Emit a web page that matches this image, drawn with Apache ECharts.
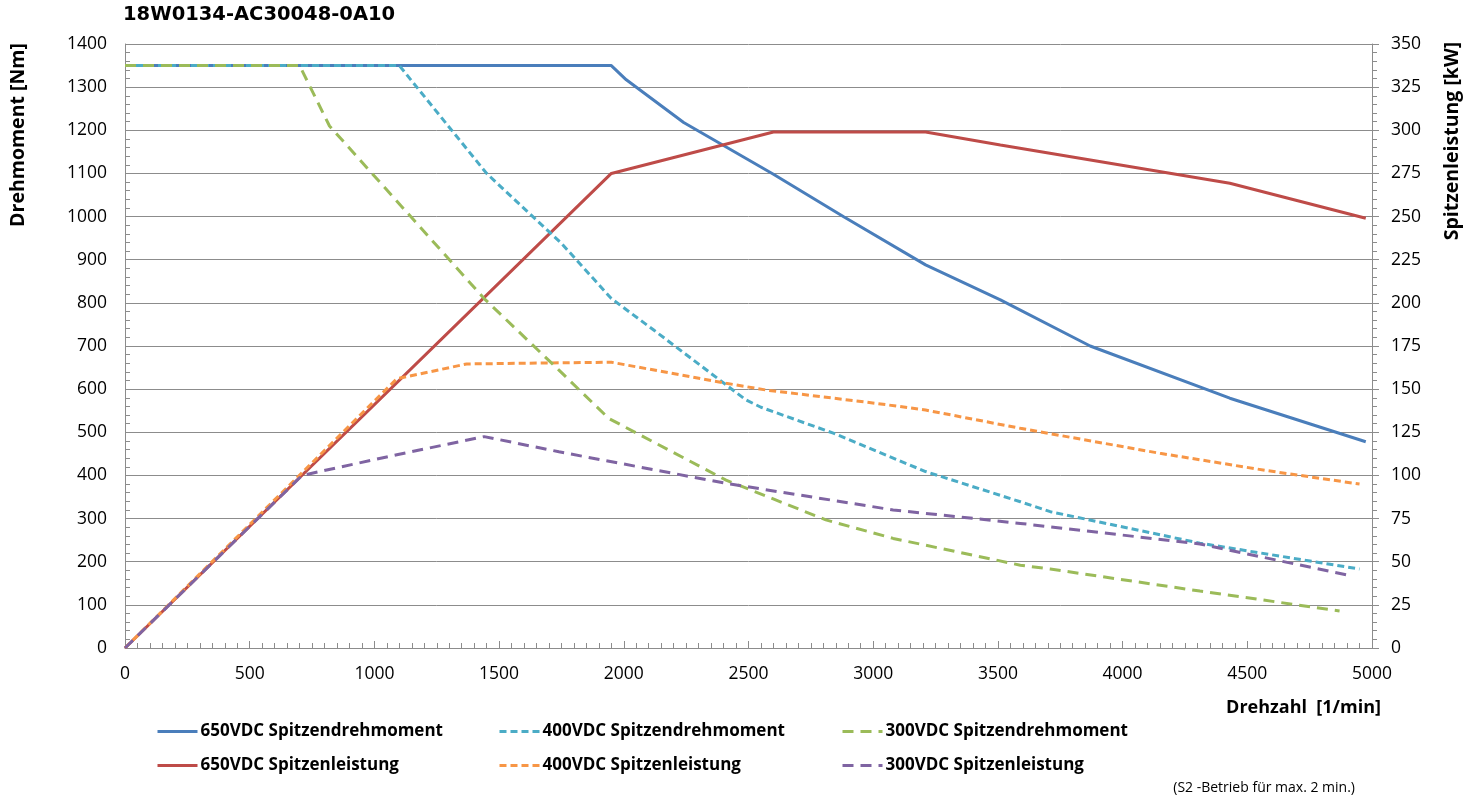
<!DOCTYPE html>
<html><head><meta charset="utf-8">
<script src="https://cdn.jsdelivr.net/npm/echarts@6/dist/echarts.min.js"></script>
<style>html,body{margin:0;padding:0;background:#fff}#c{width:1476px;height:798px}</style>
</head><body><div id="c"></div>
<script>
const chartTitle = '18W0134-AC30048-0A10';
const yLeftName = 'Drehmoment [Nm]';
const yRightName = 'Spitzenleistung [kW]';
const xName = 'Drehzahl  [1/min]';
const note = '(S2 -Betrieb für max. 2 min.)';

const seriesNames = [
  '650VDC Spitzendrehmoment', '400VDC Spitzendrehmoment', '300VDC Spitzendrehmoment',
  '650VDC Spitzenleistung', '400VDC Spitzenleistung', '300VDC Spitzenleistung'
];

// 650VDC torque [Nm]
const t650_rpm = [0, 1950, 2010, 2240, 2600, 2880, 3210, 3510, 3870, 4430, 4975];
const t650_val = [1350, 1350, 1317, 1218, 1098, 1000, 888, 807, 700, 579, 478];
// 400VDC torque [Nm]
const t400_rpm = [0, 1100, 1450, 1750, 1950, 2120, 2490, 2550, 2840, 3210, 3590, 3710, 4310, 4950];
const t400_val = [1350, 1350, 1100, 938, 810, 737, 575, 558, 498, 409, 339, 316, 243, 183];
// 300VDC torque [Nm]
const t300_rpm = [0, 700, 820, 1440, 1740, 1940, 2410, 2810, 3080, 3590, 3710, 4310, 4870];
const t300_val = [1350, 1350, 1210, 810, 644, 532, 389, 297, 254, 192, 183, 132, 86];
// 650VDC power [kW]
const p650_rpm = [0, 1950, 2600, 3210, 3510, 4430, 4975];
const p650_val = [0, 275, 299, 299, 291.5, 269.3, 249];
// 400VDC power [kW]
const p400_rpm = [0, 1090, 1370, 1950, 2410, 2570, 3010, 3210, 3590, 4150, 4570, 4950];
const p400_val = [0, 156, 164.6, 165.6, 153.4, 149.5, 141.8, 137.9, 127.3, 112.8, 103, 95];
// 300VDC power [kW]
const p300_rpm = [0, 710, 1090, 1440, 1740, 2410, 3080, 3590, 4310, 4920];
const p300_val = [0, 100, 112, 122.5, 113.7, 95.4, 80, 72.2, 60.3, 41.7];

const zip = (a, b) => a.map((x, i) => [x, b[i]]);

const colors = ['#4a7ebb', '#4bacc6', '#9bbb59', '#be4b48', '#f79646', '#7f64a2'];
const dashes = ['solid', [7, 4], [11, 7], 'solid', [7, 4], [11, 7]];
const datasets = [
  zip(t650_rpm, t650_val), zip(t400_rpm, t400_val), zip(t300_rpm, t300_val),
  zip(p650_rpm, p650_val), zip(p400_rpm, p400_val), zip(p300_rpm, p300_val)
];
const axisIdx = [0, 0, 0, 1, 1, 1];
const order = [0, 3, 1, 4, 2, 5];

const FONT = '"Open Sans", "Liberation Sans", sans-serif';
const gridColor = '#8c8c8c';

const series = order.map(i => ({
  name: seriesNames[i],
  type: 'line',
  yAxisIndex: axisIdx[i],
  data: datasets[i],
  symbol: 'none',
  showSymbol: false,
  smooth: false,
  lineStyle: { color: colors[i], width: 3, type: dashes[i], cap: 'butt' },
  itemStyle: { color: colors[i] },
  animation: false
}));

const legendPos = [
  { left: 156, top: 723 }, { left: 498, top: 723 }, { left: 841, top: 723 },
  { left: 156, top: 757 }, { left: 498, top: 757 }, { left: 841, top: 757 }
];
const legends = seriesNames.map((n, i) => ({
  data: [n],
  left: legendPos[i].left,
  top: legendPos[i].top,
  itemWidth: 40,
  itemHeight: 14,
  itemGap: 4,
  padding: 0,
  selectedMode: false,
  itemStyle: { opacity: 0 },
  lineStyle: { width: 3 },
  textStyle: { fontFamily: FONT, fontWeight: 'bold', fontSize: 17, color: '#000', padding: [0, 0, 0, -2] }
}));

const plain = v => String(v);

const chart = echarts.init(document.getElementById('c'), null, { renderer: 'canvas' });
chart.setOption({
  animation: false,
  backgroundColor: '#fff',
  grid: { left: 125, right: 104, top: 44, bottom: 150, containLabel: false },
  legend: legends,
  xAxis: {
    type: 'value', min: 0, max: 5000, interval: 500,
    axisLine: { show: true, onZero: false, lineStyle: { color: gridColor, width: 1 } },
    axisTick: { show: true, inside: true, length: 7, lineStyle: { color: gridColor } },
    minorTick: { show: true, splitNumber: 10, length: 5, lineStyle: { color: gridColor } },
    splitLine: { show: false },
    axisLabel: { fontFamily: FONT, fontSize: 17.5, color: '#000', margin: 17, formatter: plain }
  },
  yAxis: [
    {
      type: 'value', min: 0, max: 1400, interval: 100, position: 'left',
      axisLine: { show: true, lineStyle: { color: gridColor, width: 1 } },
      axisTick: { show: true, inside: true, length: 7, lineStyle: { color: gridColor } },
      minorTick: { show: true, splitNumber: 5, length: 5, lineStyle: { color: gridColor } },
      splitLine: { show: true, lineStyle: { color: gridColor, width: 1 } },
      axisLabel: { fontFamily: FONT, fontSize: 17.5, color: '#000', margin: 18, formatter: plain }
    },
    {
      type: 'value', min: 0, max: 350, interval: 25, position: 'right',
      axisLine: { show: true, lineStyle: { color: gridColor, width: 1 } },
      axisTick: { show: true, length: 7, lineStyle: { color: gridColor } },
      minorTick: { show: true, splitNumber: 5, length: 5, lineStyle: { color: gridColor } },
      splitLine: { show: false },
      axisLabel: { fontFamily: FONT, fontSize: 17.5, color: '#000', margin: 19, formatter: plain }
    }
  ],
  graphic: [
    { type: 'text', left: 123, top: 5, style: { text: chartTitle, font: 'bold 19.5px "DejaVu Sans", sans-serif', fill: '#000' } },
    { type: 'text', x: 18, y: 135, rotation: Math.PI / 2,
      style: { text: yLeftName, font: 'bold 19.5px ' + FONT, fill: '#000', textAlign: 'center', textVerticalAlign: 'middle' } },
    { type: 'text', x: 1452, y: 141, rotation: Math.PI / 2,
      style: { text: yRightName, font: 'bold 19.5px ' + FONT, fill: '#000', textAlign: 'center', textVerticalAlign: 'middle' } },
    { type: 'text', x: 1381, y: 708,
      style: { text: xName, font: 'bold 18px ' + FONT, fill: '#000', textAlign: 'right', textVerticalAlign: 'middle' } },
    { type: 'text', x: 1355, y: 788,
      style: { text: note, font: '14px ' + FONT, fill: '#000', textAlign: 'right', textVerticalAlign: 'middle' } }
  ],
  series: series
});
</script></body></html>
